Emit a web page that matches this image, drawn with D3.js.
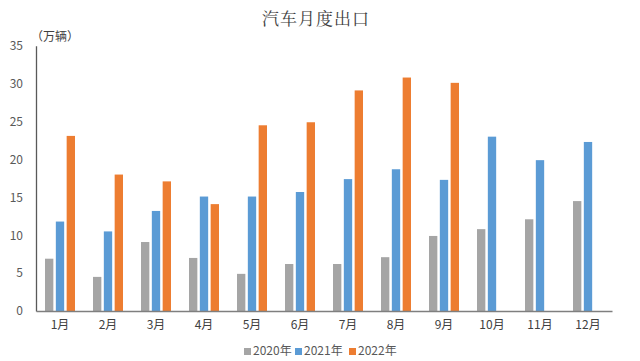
<!DOCTYPE html>
<html><head><meta charset="utf-8">
<script src="https://cdn.jsdelivr.net/npm/d3@7"></script>
<style>body{margin:0;background:#fff;} svg{display:block;}</style>
</head><body>
<script>
const months = ["1月","2月","3月","4月","5月","6月","7月","8月","9月","10月","11月","12月"];
const seriesNames = ["2020年","2021年","2022年"];
const values2020 = [6.9,4.5,9.1,7.0,4.9,6.2,6.2,7.1,9.9,10.8,12.1,14.5];
const values2021 = [11.8,10.5,13.2,15.1,15.1,15.7,17.4,18.7,17.3,23.0,19.9,22.3];
const values2022 = [23.1,18.0,17.1,14.1,24.5,24.9,29.1,30.8,30.1,null,null,null];
const yTicks = [0,5,10,15,20,25,30,35];
const colors = ["#A5A5A5","#5B9BD5","#ED7D31"];

const W = 640, H = 361;
const svg = d3.select("body").append("svg").attr("width", W).attr("height", H);
const font = "'Noto Sans CJK SC','Noto Sans',sans-serif";

const x0 = d3.scaleBand().domain(months).range([36, 612]).padding(0);
const x1 = d3.scaleBand().domain(seriesNames).range([9, 39]).paddingInner(0.23).paddingOuter(0);
const y = d3.scaleLinear().domain([0, 35]).range([311, 45.7]);

const all = [values2020, values2021, values2022];

// bars
seriesNames.forEach((s, si) => {
  svg.append("g").selectAll("rect")
    .data(months.map((m, i) => ({m, v: all[si][i]})).filter(d => d.v != null))
    .join("rect")
    .attr("x", d => x0(d.m) + x1(s))
    .attr("width", x1.bandwidth())
    .attr("y", d => y(d.v))
    .attr("height", d => y(0) - y(d.v))
    .attr("fill", colors[si]);
});

// y axis
const yAxis = svg.append("g").attr("transform", "translate(36,0)")
  .call(d3.axisLeft(y).tickValues(yTicks).tickSize(0).tickPadding(13));
yAxis.select(".domain").attr("stroke", "#595959").attr("stroke-width", 1.3);
yAxis.selectAll("text").attr("font-family", font).attr("font-size", 12).attr("fill", "#595959");

// x axis
const xAxis = svg.append("g").attr("transform", "translate(0,311)")
  .call(d3.axisBottom(x0).tickSize(0).tickPadding(9));
xAxis.select(".domain").attr("stroke", "#7f7f7f").attr("stroke-width", 1.3);
xAxis.selectAll("text").attr("font-family", font).attr("font-size", 12).attr("fill", "#404040");

// title
svg.append("text").attr("x", 316).attr("y", 25).attr("text-anchor", "middle")
  .attr("font-family", "'Noto Serif CJK SC','Noto Sans CJK SC',serif").attr("font-size", 17)
  .attr("fill", "#404040").attr("letter-spacing", 1).text("汽车月度出口");

// unit
svg.append("text").attr("x", 31).attr("y", 41)
  .attr("font-family", font).attr("font-size", 12).attr("fill", "#404040").text("（万辆）");

// legend
const legendX = [244, 295, 349];
seriesNames.forEach((s, i) => {
  const g = svg.append("g").attr("transform", `translate(${legendX[i]},355)`);
  g.append("rect").attr("x", 0).attr("y", -7).attr("width", 7).attr("height", 7).attr("fill", colors[i]);
  g.append("text").attr("x", 9).attr("y", 0).attr("font-family", font).attr("font-size", 12)
    .attr("fill", "#595959").text(s);
});
</script>
</body></html>
